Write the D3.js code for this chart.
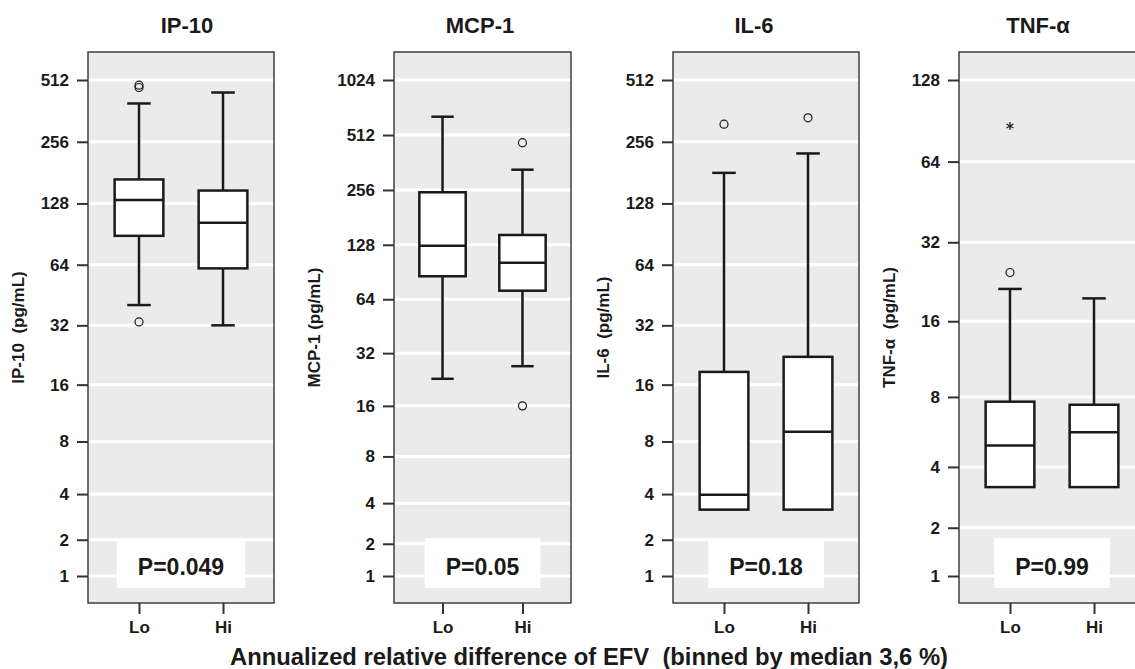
<!DOCTYPE html>
<html>
<head>
<meta charset="utf-8">
<script src="https://cdn.jsdelivr.net/npm/d3@7"></script>
<style>
  body { margin: 0; background: #fff; }
  svg text { font-family: "Liberation Sans", Arial, sans-serif; font-weight: bold; fill: #1a1a1a; white-space: pre; }
</style>
</head>
<body>
<div id="chart"></div>
<script>
/* categories and labels */
var groups = ["Lo", "Hi"];
var cytokines = ["IP-10", "MCP-1", "IL-6", "TNF-α"];
var yTitles = ["IP-10  (pg/mL)", "MCP-1 (pg/mL)", "IL-6  (pg/mL)", "TNF-α  (pg/mL)"];
var pLabels = ["P=0.049", "P=0.05", "P=0.18", "P=0.99"];
var xTitle = "Annualized relative difference of EFV  (binned by median 3,6 %)";

/* tick values (pg/mL) */
var ticks512 = [1, 2, 4, 8, 16, 32, 64, 128, 256, 512];
var ticks1024 = [1, 2, 4, 8, 16, 32, 64, 128, 256, 512, 1024];
var ticks128 = [1, 2, 4, 8, 16, 32, 64, 128];

/* box stats for Lo, Hi: [lower whisker, Q1, median, Q3, upper whisker] */
var ip10Box = [[40.4, 88.8, 132.9, 167.7, 393.6], [32, 61.4, 103, 148, 445]];
var mcp1Box = [[22.9, 85.8, 126.5, 248.7, 645], [27, 71.4, 102, 144.9, 330.7]];
var il6Box  = [[3.2, 3.2, 3.96, 18.6, 180.6], [3.2, 3.2, 9.04, 22.2, 224.6]];
var tnfBox  = [[3.22, 3.22, 4.98, 7.65, 21.3], [3.22, 3.22, 5.69, 7.43, 19.6]];

/* outliers (circles) and extreme values (stars) for Lo, Hi */
var ip10Out = [[33.3, 470.8, 483], []];
var mcp1Out = [[], [16, 465]];
var il6Out  = [[312], [335]];
var tnfOut  = [[24.6], []];
var tnfExt  = [[86.7], []];

/* layout (pixels) */
var W = 1135, H = 669;
var plotTop = 52, plotBottom = 603, yTopTick = 80, yOneTick = 576;
var panelLeft = [88, 394, 673, 959];
var panelWidth = [186, 177, 186, 186];
var titleX = [187, 480, 754, 1038];

var panels = [
  { ticks: ticks512,  box: ip10Box, out: ip10Out, ext: [[], []] },
  { ticks: ticks1024, box: mcp1Box, out: mcp1Out, ext: [[], []] },
  { ticks: ticks512,  box: il6Box,  out: il6Out,  ext: [[], []] },
  { ticks: ticks128,  box: tnfBox,  out: tnfOut,  ext: tnfExt }
];

var ink = "#1a1a1a";

var svg = d3.select("#chart").append("svg")
  .attr("width", W)
  .attr("height", H);

panels.forEach(function (p, i) {
  var left = panelLeft[i], width = panelWidth[i];
  var g = svg.append("g").attr("transform", "translate(" + left + ",0)");

  /* scales: log(1+x) axis like the original */
  var x = d3.scalePoint().domain(groups).range([0, width]).padding(0.607);
  var y = d3.scaleSymlog().constant(1)
    .domain([1, d3.max(p.ticks)])
    .range([yOneTick, yTopTick]);
  var step = x.step();
  var boxW = step * 0.58, capW = step * 0.28;

  /* panel background */
  g.append("rect")
    .attr("x", 0).attr("y", plotTop)
    .attr("width", width).attr("height", plotBottom - plotTop)
    .attr("fill", "#ebebeb");

  /* grid lines */
  g.selectAll(".grid").data(p.ticks).enter().append("line")
    .attr("class", "grid")
    .attr("x1", 0).attr("x2", width)
    .attr("y1", function (d) { return y(d); })
    .attr("y2", function (d) { return y(d); })
    .attr("stroke", "#fff").attr("stroke-width", 3);

  /* p-value label on white box */
  var pg = g.append("g");
  var pt = pg.append("text")
    .attr("x", width / 2).attr("y", 575)
    .attr("text-anchor", "middle")
    .style("font-size", "23px")
    .text(pLabels[i]);
  var bb = pt.node().getBBox();
  pg.insert("rect", "text")
    .attr("x", bb.x - 21).attr("y", 538)
    .attr("width", bb.width + 42).attr("height", 50)
    .attr("fill", "#fff");

  /* boxes */
  groups.forEach(function (grp, j) {
    var s = p.box[j], cx = x(grp);
    var bg = g.append("g")
      .attr("stroke", ink).attr("stroke-width", 2.5).attr("fill", "none");
    if (s[4] > s[3]) {
      bg.append("line").attr("x1", cx).attr("x2", cx).attr("y1", y(s[3])).attr("y2", y(s[4]));
      bg.append("line").attr("x1", cx - capW / 2).attr("x2", cx + capW / 2).attr("y1", y(s[4])).attr("y2", y(s[4]));
    }
    if (s[0] < s[1]) {
      bg.append("line").attr("x1", cx).attr("x2", cx).attr("y1", y(s[1])).attr("y2", y(s[0]));
      bg.append("line").attr("x1", cx - capW / 2).attr("x2", cx + capW / 2).attr("y1", y(s[0])).attr("y2", y(s[0]));
    }
    bg.append("rect")
      .attr("x", cx - boxW / 2).attr("y", y(s[3]))
      .attr("width", boxW).attr("height", y(s[1]) - y(s[3]))
      .attr("fill", "#fff");
    bg.append("line")
      .attr("x1", cx - boxW / 2).attr("x2", cx + boxW / 2)
      .attr("y1", y(s[2])).attr("y2", y(s[2]));

    /* outliers */
    g.selectAll(null).data(p.out[j]).enter().append("circle")
      .attr("cx", cx).attr("cy", function (d) { return y(d); })
      .attr("r", 4)
      .attr("fill", "none").attr("stroke", ink).attr("stroke-width", 1.2);

    /* extreme values: asterisk */
    g.selectAll(null).data(p.ext[j]).enter().append("path")
      .attr("transform", function (d) { return "translate(" + cx + "," + y(d) + ")"; })
      .attr("d", "M0,-4V4M-3.5,-2L3.5,2M-3.5,2L3.5,-2")
      .attr("fill", "none").attr("stroke", ink).attr("stroke-width", 1.2);
  });

  /* frame */
  g.append("rect")
    .attr("x", 0).attr("y", plotTop)
    .attr("width", width).attr("height", plotBottom - plotTop)
    .attr("fill", "none").attr("stroke", "#333").attr("stroke-width", 1.4);

  /* left axis */
  var ay = g.append("g")
    .call(d3.axisLeft(y).tickValues(p.ticks).tickSize(11).tickPadding(8).tickFormat(d3.format("d")));
  ay.select(".domain").remove();
  ay.selectAll(".tick line").attr("stroke", "#333").attr("stroke-width", 2);
  ay.selectAll(".tick text")
    .style("font-size", "17px").attr("fill", ink);

  /* bottom axis */
  var ax = g.append("g")
    .attr("transform", "translate(0," + plotBottom + ")")
    .call(d3.axisBottom(x).tickSize(11).tickPadding(7));
  ax.select(".domain").remove();
  ax.selectAll(".tick line").attr("stroke", "#333").attr("stroke-width", 2);
  ax.selectAll(".tick text")
    .style("font-size", "17px").attr("fill", ink);

  /* y axis title */
  var abb = ay.node().getBBox();
  var ty = (plotTop + plotBottom) / 2;
  g.append("text")
    .attr("transform", "translate(" + (abb.x - 23) + "," + ty + ") rotate(-90)")
    .attr("text-anchor", "middle")
    .attr("dy", "0.35em")
    .style("font-size", "17px")
    .text(yTitles[i]);

  /* panel title */
  svg.append("text")
    .attr("x", titleX[i]).attr("y", 33)
    .attr("text-anchor", "middle")
    .style("font-size", "22px")
    .text(cytokines[i]);
});

/* shared x axis title */
svg.append("text")
  .attr("x", 589).attr("y", 665)
  .attr("text-anchor", "middle")
  .style("font-size", "23.8px")
  .text(xTitle);
</script>
</body>
</html>
